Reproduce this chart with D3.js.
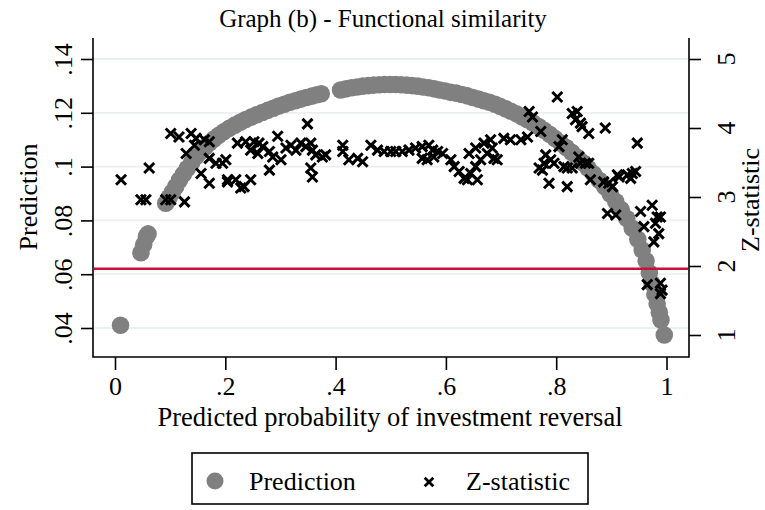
<!DOCTYPE html>
<html><head><meta charset="utf-8">
<script src="https://cdn.jsdelivr.net/npm/d3@7"></script>
<style>
body{margin:0;background:#fff}
text{font-family:"Liberation Serif","Times New Roman",serif;fill:#000}
</style>
</head><body>
<svg id="chart" width="765" height="510"></svg>
<script>
// ---- data ----
const predProb = [0.010,0.047,0.052,0.057,0.060,
0.092,0.098,0.104,0.110,0.117,0.124,0.131,0.139,0.147,0.155,0.163,0.171,0.179,0.188,0.197,
0.207,0.217,0.227,0.237,0.247,0.257,0.267,0.277,0.287,0.297,0.307,0.317,0.327,0.337,0.347,0.357,0.366,0.374,
0.409,0.419,0.429,0.439,0.449,0.459,0.469,0.479,0.489,0.499,0.509,0.519,0.529,0.539,0.549,0.559,0.569,0.579,0.589,0.599,0.609,0.619,0.629,0.639,0.649,0.659,0.669,0.679,0.689,
0.698,0.708,0.718,0.728,0.738,0.748,0.758,0.768,0.778,0.788,0.798,0.808,0.818,0.828,0.838,0.848,0.858,0.868,0.878,0.888,0.898,0.908,0.918,0.928,0.938,0.948,
0.956,0.963,0.969,0.974,0.979,0.983,0.987,0.990,0.996];
const predValue = [0.041,0.068,0.071,0.074,0.075,
0.0864,0.0885,0.0905,0.0925,0.0950,0.0972,0.0993,0.1015,0.1037,0.1055,0.1072,0.1088,0.1102,0.1116,0.1129,
0.1142,0.1154,0.1165,0.1175,0.1184,0.1193,0.1201,0.1209,0.1217,0.1225,0.1232,0.1239,0.1245,0.1251,0.1257,0.1262,0.1267,0.1271,
0.1285,0.1289,0.1293,0.1296,0.1299,0.1301,0.1303,0.1304,0.1305,0.1305,0.1305,0.1304,0.1303,0.1301,0.1299,0.1296,0.1293,0.1289,0.1285,0.1281,0.1276,0.1273,0.1268,0.1263,0.1257,0.1251,0.1245,0.1239,0.1232,
0.1224,0.1215,0.1206,0.1196,0.1185,0.1174,0.1162,0.1149,0.1135,0.1120,0.1104,0.1088,0.1071,0.1053,0.1035,0.1015,0.0994,0.0972,0.0949,0.0925,0.0898,0.0870,0.0840,0.0807,0.0771,0.0730,
0.0690,0.0650,0.0605,0.0565,0.0525,0.0490,0.0458,0.0430,0.0374];

const zProb = [0.011,0.047,0.056,0.062,0.092,0.101,0.126,0.101,0.116,0.138,0.147,0.162,0.171,0.129,0.144,0.171,0.183,0.195,0.156,0.171,0.204,
0.349,0.295,0.222,0.237,0.252,0.261,0.268,0.246,0.259,0.280,0.286,0.301,0.310,0.319,0.328,0.337,0.346,0.355,0.358,0.364,0.376,0.382,0.280,0.355,0.358,
0.413,0.413,0.424,0.440,0.204,0.219,0.228,0.246,0.234,0.201,
0.464,0.476,0.488,0.500,0.509,0.521,0.533,0.545,0.557,0.569,0.576,0.585,0.594,0.557,0.566,0.578,0.609,0.615,0.624,0.633,0.639,0.657,0.645,0.654,0.663,
0.642,0.654,0.669,0.681,0.705,0.675,0.687,0.693,0.684,0.449,
0.802,0.751,0.757,0.829,0.838,0.835,0.844,0.847,0.859,0.889,0.947,0.717,0.736,0.748,0.772,0.811,0.805,0.781,0.778,0.790,0.796,0.769,0.775,
0.814,0.820,0.829,0.841,0.844,0.853,0.859,0.787,0.820,0.862,0.886,0.895,0.902,0.911,0.914,0.929,0.938,0.944,0.935,
0.893,0.908,0.953,0.974,0.983,0.989,0.959,0.980,0.986,0.977,0.965,0.989,0.992,0.989];
const zValue = [3.25,2.96,2.96,3.42,2.96,2.96,2.93,3.92,3.87,3.92,3.85,3.83,3.80,3.63,3.75,3.56,3.49,3.49,3.34,3.20,3.22,
4.06,3.88,3.78,3.80,3.80,3.78,3.73,3.68,3.63,3.66,3.58,3.54,3.71,3.75,3.68,3.78,3.73,3.78,3.68,3.61,3.58,3.61,3.39,3.42,3.29,
3.75,3.66,3.54,3.56,3.25,3.25,3.13,3.25,3.15,3.54,
3.75,3.68,3.66,3.66,3.66,3.66,3.68,3.71,3.73,3.75,3.68,3.66,3.63,3.56,3.54,3.58,3.54,3.44,3.37,3.27,3.25,3.25,3.34,3.44,3.54,
3.63,3.71,3.78,3.83,3.85,3.63,3.56,3.54,3.71,3.51,
4.45,4.24,4.16,4.21,4.24,4.12,4.07,4.02,3.92,4.00,3.78,3.83,3.83,3.87,3.95,3.83,3.73,3.61,3.49,3.54,3.49,3.42,3.39,
3.44,3.42,3.42,3.58,3.49,3.49,3.49,3.20,3.15,3.25,3.22,3.20,3.15,3.32,3.29,3.32,3.34,3.37,3.27,
2.76,2.74,2.79,2.88,2.71,2.71,2.57,2.62,2.47,2.35,1.73,1.75,1.65,1.60];

const xTicks = [0,0.2,0.4,0.6,0.8,1];
const xTickLabels = ["0",".2",".4",".6",".8","1"];
const yTicks = [0.04,0.06,0.08,0.10,0.12,0.14];
const yTickLabels = [".04",".06",".08",".1",".12",".14"];
const zTicks = [1,2,3,4,5];
const zTickLabels = ["1","2","3","4","5"];
const criticalZ = 1.96;
const seriesNames = ["Prediction","Z-statistic"];

// ---- layout ----
const svg = d3.select("#chart");
const plotL = 93, plotR = 689, plotT = 38, plotB = 357;
const x = d3.scaleLinear().domain([0,1]).range([115,666.5]);
const yL = d3.scaleLinear().domain([0.04,0.14]).range([328,59]);
const yR = d3.scaleLinear().domain([1,5]).range([335,59]);
const gray = "#808080", red = "#c8103c", grid = "#e8f0f2";

svg.append("rect").attr("width",765).attr("height",510).attr("fill","#fff");

// gridlines
svg.append("g").selectAll("line").data(yTicks).join("line")
  .attr("x1",plotL+1).attr("x2",plotR-1)
  .attr("y1",d=>yL(d)).attr("y2",d=>yL(d))
  .attr("stroke",grid).attr("stroke-width",1.8);

// prediction circles
const predData = d3.zip(predProb,predValue);
svg.append("g").selectAll("circle").data(predData).join("circle")
  .attr("cx",d=>x(d[0])).attr("cy",d=>yL(d[1])).attr("r",8.8).attr("fill",gray);

// critical value line
svg.append("line").attr("x1",plotL+1).attr("x2",plotR-1)
  .attr("y1",yR(criticalZ)).attr("y2",yR(criticalZ))
  .attr("stroke",red).attr("stroke-width",2.6);

// z-statistic crosses
const xPath = "M-5,-5L5,5M-5,5L5,-5";
const zData = d3.zip(zProb,zValue);
svg.append("g").selectAll("path").data(zData).join("path")
  .attr("transform",d=>`translate(${x(d[0])},${yR(d[1])})`)
  .attr("d",xPath).attr("stroke","#000").attr("stroke-width",3).attr("fill","none");

// axes
const fs = 26;
const gx = svg.append("g").attr("transform",`translate(0,${plotB})`)
  .call(d3.axisBottom(x).tickValues(xTicks).tickFormat((d,i)=>xTickLabels[i]).tickSize(13).tickSizeOuter(0));
gx.select(".domain").remove();
gx.selectAll(".tick line").attr("stroke","#000").attr("stroke-width",1.6);
gx.selectAll(".tick text").attr("y",38).attr("dy",0).attr("font-size",fs)
  .style("font-family","Liberation Serif");

const gl = svg.append("g").attr("transform",`translate(${plotL},0)`)
  .call(d3.axisLeft(yL).tickValues(yTicks).tickFormat((d,i)=>yTickLabels[i]).tickSize(12));
gl.select(".domain").remove();
gl.selectAll(".tick line").attr("stroke","#000").attr("stroke-width",1.6);
gl.selectAll(".tick text").attr("x",0).attr("y",0).attr("dy",0)
  .attr("transform","translate(-21,0) rotate(-90)")
  .attr("text-anchor","middle").attr("font-size",fs).style("font-family","Liberation Serif");

const gr = svg.append("g").attr("transform",`translate(${plotR},0)`)
  .call(d3.axisRight(yR).tickValues(zTicks).tickFormat("").tickSize(12));
gr.select(".domain").remove();
gr.selectAll(".tick line").attr("stroke","#000").attr("stroke-width",1.6);
gr.selectAll(".tick text").remove();
svg.append("g").selectAll("text").data(zTicks).join("text")
  .attr("transform",d=>`translate(${plotR+46},${yR(d)}) rotate(-90)`)
  .attr("text-anchor","middle").attr("font-size",fs)
  .text((d,i)=>zTickLabels[i]);

// axis lines
svg.append("path").attr("d",`M${plotL},${plotT}V${plotB}H${plotR}V${plotT}`)
  .attr("fill","none").attr("stroke","#000").attr("stroke-width",1.6);

// titles
svg.append("text").attr("x",383).attr("y",27).attr("text-anchor","middle").attr("font-size",25)
  .text("Graph (b) - Functional similarity");
svg.append("text").attr("x",390).attr("y",426).attr("text-anchor","middle").attr("font-size",26.5)
  .text("Predicted probability of investment reversal");
svg.append("text").attr("transform","translate(37,197) rotate(-90)").attr("text-anchor","middle").attr("font-size",26)
  .text("Prediction");
svg.append("text").attr("transform","translate(759,200) rotate(-90)").attr("text-anchor","middle").attr("font-size",26)
  .text("Z-statistic");

// legend
const lg = svg.append("g");
lg.append("rect").attr("x",192).attr("y",453).attr("width",396).attr("height",51)
  .attr("fill","#fff").attr("stroke","#000").attr("stroke-width",1.6);
lg.append("circle").attr("cx",215).attr("cy",481).attr("r",8.5).attr("fill",gray);
lg.append("text").attr("x",249).attr("y",490).attr("font-size",26).text(seriesNames[0]);
lg.append("path").attr("transform","translate(429,482)").attr("d","M-4.3,-4.3L4.3,4.3M-4.3,4.3L4.3,-4.3")
  .attr("stroke","#000").attr("stroke-width",2.8);
lg.append("text").attr("x",466).attr("y",490).attr("font-size",26).text(seriesNames[1]);
</script>
</body></html>
